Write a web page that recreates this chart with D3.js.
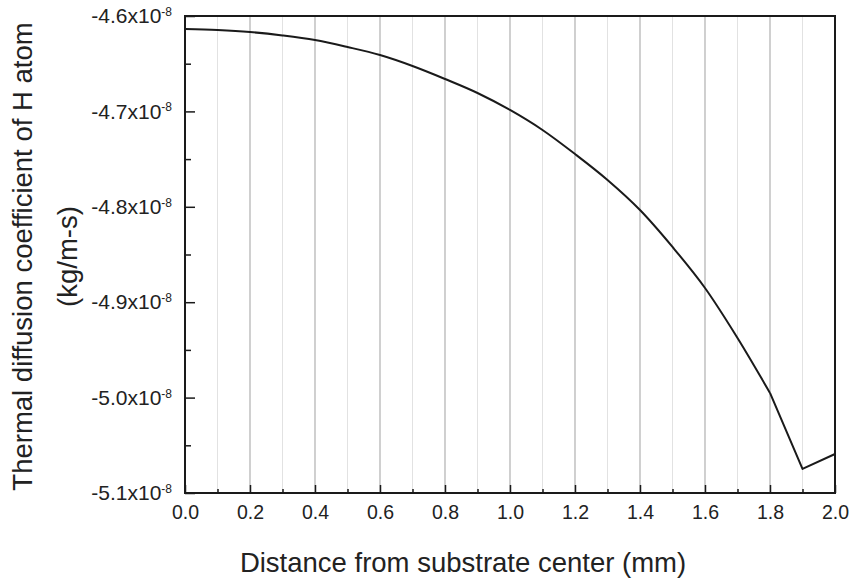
<!DOCTYPE html>
<html>
<head>
<meta charset="utf-8">
<script src="https://cdn.jsdelivr.net/npm/d3@7"></script>
<style>
  body { margin: 0; background: #fff; }
  text { font-family: "Liberation Sans", Arial, sans-serif; fill: #111; }
</style>
</head>
<body>
<svg width="854" height="582"></svg>
<script>
const width = 854
const height = 582
const margin = {top: 16, right: 19, bottom: 89, left: 185}

// distance (mm) and coefficient (x1e-8 kg/m-s)
const distance = [0.0, 0.1, 0.2, 0.3, 0.4, 0.5, 0.6, 0.7, 0.8, 0.9, 1.0,
                  1.1, 1.2, 1.3, 1.4, 1.5, 1.6, 1.7, 1.8, 1.9, 2.0]
const coefficient = [-4.6136, -4.6147, -4.6168, -4.6204, -4.6252, -4.6325, -4.6409,
                     -4.6524, -4.6660, -4.6807, -4.6985, -4.7195, -4.7447, -4.7719,
                     -4.8034, -4.8421, -4.8851, -4.9375, -4.9951, -5.0748, -5.0591]
const xTicks = [0.0, 0.2, 0.4, 0.6, 0.8, 1.0, 1.2, 1.4, 1.6, 1.8, 2.0]
const xMinor = [0.1, 0.3, 0.5, 0.7, 0.9, 1.1, 1.3, 1.5, 1.7, 1.9]
const yTicks = [-4.6, -4.7, -4.8, -4.9, -5.0, -5.1]
const yMinor = [-4.65, -4.75, -4.85, -4.95, -5.05]

const data = distance.map((d, i) => ({x: d, y: coefficient[i]}))
// smooth bend up to 1.8 mm, then straight pieces through the dip at 1.9
const smoothPart = data.filter(d => d.x <= 1.8)
const tailPart = data.filter(d => d.x >= 1.8)

const w = width - margin.left - margin.right
const h = height - margin.top - margin.bottom

const xScale = d3.scaleLinear().domain([0, 2]).range([0, w])
const yScale = d3.scaleLinear().domain([-5.1, -4.6]).range([h, 0])

const fmt = d => d3.format(".1f")(d).replace("\u2212", "-")

const svg = d3.select("svg")
const g = svg.append("g")
    .attr("transform", `translate(${margin.left}, ${margin.top})`)

// vertical grid lines
g.selectAll(".minor-grid")
    .data(xMinor)
    .enter()
    .append("line")
        .attr("x1", d => xScale(d))
        .attr("x2", d => xScale(d))
        .attr("y1", 0)
        .attr("y2", h)
        .style("stroke", "#e2e2e2")
        .style("stroke-width", 1)

g.selectAll(".major-grid")
    .data(xTicks.slice(1, -1))
    .enter()
    .append("line")
        .attr("x1", d => xScale(d))
        .attr("x2", d => xScale(d))
        .attr("y1", 0)
        .attr("y2", h)
        .style("stroke", "#b0b0b0")
        .style("stroke-width", 1.2)

// curve
const smoothLine = d3.line()
    .x(d => xScale(d.x))
    .y(d => yScale(d.y))
    .curve(d3.curveMonotoneX)

const straightLine = d3.line()
    .x(d => xScale(d.x))
    .y(d => yScale(d.y))

g.append("path")
    .datum(smoothPart)
    .attr("d", smoothLine)
    .style("fill", "none")
    .style("stroke", "#1a1a1a")
    .style("stroke-width", 2)

g.append("path")
    .datum(tailPart)
    .attr("d", straightLine)
    .style("fill", "none")
    .style("stroke", "#1a1a1a")
    .style("stroke-width", 2)
    .style("stroke-linejoin", "round")

// axes, ticks pointing inward
const xAxis = d3.axisBottom(xScale)
    .tickValues(xTicks)
    .tickSize(-8)
    .tickPadding(12)
    .tickFormat(fmt)

const xAxisMinor = d3.axisBottom(xScale)
    .tickValues(xMinor)
    .tickSize(-4)
    .tickFormat("")

const yAxis = d3.axisLeft(yScale)
    .tickValues(yTicks)
    .tickSize(-10)
    .tickPadding(13)
    .tickFormat(fmt)

const yAxisMinor = d3.axisLeft(yScale)
    .tickValues(yMinor)
    .tickSize(-6)
    .tickFormat("")

const xg = g.append("g")
    .attr("transform", `translate(0, ${h})`)
    .call(xAxis)
g.append("g")
    .attr("transform", `translate(0, ${h})`)
    .call(xAxisMinor)

const yg = g.append("g").call(yAxis)
g.append("g").call(yAxisMinor)

g.selectAll(".domain").remove()
g.selectAll(".tick line")
    .style("stroke", "#1a1a1a")
    .style("stroke-width", 1.5)

xg.selectAll("text")
    .style("font-size", "19.5px")
    .style("fill", "#222")

// y labels as a x10^-8
yg.selectAll(".tick text")
    .style("font-size", "21px")
    .style("fill", "#222")
    .text(null)
    .each(function(d) {
        const t = d3.select(this)
        t.append("tspan").text(fmt(d) + "x10")
        t.append("tspan")
            .attr("dy", "-0.6em")
            .style("font-size", "12px")
            .text("-8")
    })

// frame
g.append("rect")
    .attr("width", w)
    .attr("height", h)
    .style("fill", "none")
    .style("stroke", "#1a1a1a")
    .style("stroke-width", 2)

// axis titles
svg.append("text")
    .attr("x", 463)
    .attr("y", 572)
    .attr("text-anchor", "middle")
    .style("font-size", "27.5px")
    .style("fill", "#222")
    .text("Distance from substrate center (mm)")

const yTitle = svg.append("text")
    .attr("transform", `translate(32, ${margin.top + h / 2 + 2}) rotate(-90)`)
    .attr("text-anchor", "middle")
    .style("font-size", "27.5px")
    .style("fill", "#222")

yTitle.append("tspan")
    .attr("x", 0)
    .text("Thermal diffusion coefficient of H atom")
yTitle.append("tspan")
    .attr("x", 0)
    .attr("dy", "1.65em")
    .text("(kg/m-s)")
</script>
</body>
</html>
